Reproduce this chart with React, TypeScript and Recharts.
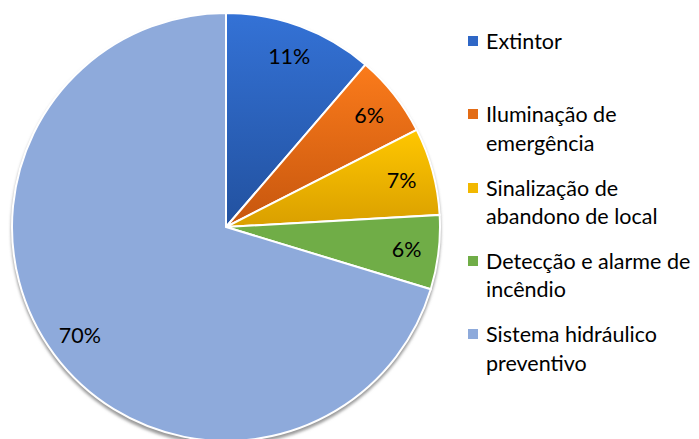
import React from "react";
import { PieChart, Pie, Cell, Legend } from "recharts";

const categories = [
  "Extintor",
  "Iluminação de emergência",
  "Sinalização de abandono de local",
  "Detecção e alarme de incêndio",
  "Sistema hidráulico preventivo",
];
const values = [11.3, 6.2, 6.6, 5.6, 70.3];
const legendLines = [
  ["Extintor"],
  ["Iluminação de", "emergência"],
  ["Sinalização de", "abandono de local"],
  ["Detecção e alarme de", "incêndio"],
  ["Sistema hidráulico", "preventivo"],
];
const gradTop = ["#3472d6", "#fb7b1b", "#ffc700", "#70ad47", "#8eaadb"];
const gradBottom = ["#22519f", "#c6560e", "#d99f00", "#70ad47", "#8eaadb"];
const swatch = ["#2f67c6", "#e36c16", "#f2b800", "#70ad47", "#8eaadb"];

const data = categories.map((name, i) => ({ name, value: values[i] }));
const shadowData = [{ name: "shadow", value: 1 }];

const FONT = "Lato, 'Open Sans', sans-serif";
const RAD = Math.PI / 180;

const renderLabel = (p: any) => {
  const r = p.outerRadius * 0.85;
  const x = p.cx + r * Math.cos(-p.midAngle * RAD);
  const y = p.cy + r * Math.sin(-p.midAngle * RAD);
  return (
    <text
      x={x}
      y={y}
      textAnchor="middle"
      dominantBaseline="central"
      fill="#000"
      fontSize={21.5}
      fontFamily={FONT}
    >
      {Math.round(p.percent * 100)}%
    </text>
  );
};

const renderLegend = () => (
  <div style={{ position: "relative", width: 240, height: 400, fontFamily: FONT }}>
    {legendLines.map((lines, i) => (
      <div
        key={i}
        style={{
          position: "absolute",
          left: 0,
          top: 27 + i * 73.3,
          display: "flex",
          alignItems: "flex-start",
        }}
      >
        <div
          style={{
            width: 10,
            height: 10,
            background: swatch[i],
            marginTop: 9,
            marginRight: 8,
            flexShrink: 0,
          }}
        />
        <div style={{ fontSize: 21.5, lineHeight: "28.5px", color: "#000", whiteSpace: "nowrap" }}>
          {lines.map((l, j) => (
            <div key={j}>{l}</div>
          ))}
        </div>
      </div>
    ))}
  </div>
);

export default function App() {
  return (
    <div style={{ position: "absolute", left: 0, top: 0, width: 699, height: 439, background: "#fff" }}>
      <PieChart width={699} height={439} margin={{ top: 0, right: 0, bottom: 0, left: 0 }}>
        <defs>
          {gradTop.map((c, i) => (
            <linearGradient key={i} id={`g${i}`} x1="0" y1="0" x2="0" y2="1">
              <stop offset="0%" stopColor={c} />
              <stop offset="100%" stopColor={gradBottom[i]} />
            </linearGradient>
          ))}
          <filter id="blur" x="-10%" y="-10%" width="120%" height="120%">
            <feGaussianBlur stdDeviation="1.5" />
          </filter>
        </defs>
        <Pie
          data={shadowData}
          dataKey="value"
          cx={226}
          cy={230}
          outerRadius={215}
          startAngle={90}
          endAngle={-270}
          stroke="none"
          isAnimationActive={false}
          legendType="none"
          label={false}
        >
          <Cell fill="#9a9a9a" filter="url(#blur)" />
        </Pie>
        <Pie
          data={data}
          dataKey="value"
          nameKey="name"
          cx={226}
          cy={227}
          outerRadius={214}
          startAngle={90}
          endAngle={-270}
          stroke="#fff"
          strokeWidth={2}
          isAnimationActive={false}
          labelLine={false}
          label={renderLabel}
        >
          {data.map((_, i) => (
            <Cell key={i} fill={`url(#g${i})`} />
          ))}
        </Pie>
        <Legend
          layout="vertical"
          align="right"
          verticalAlign="top"
          content={renderLegend}
          wrapperStyle={{ position: "absolute", left: 468, top: 0, width: 240, height: 400 }}
        />
      </PieChart>
    </div>
  );
}
